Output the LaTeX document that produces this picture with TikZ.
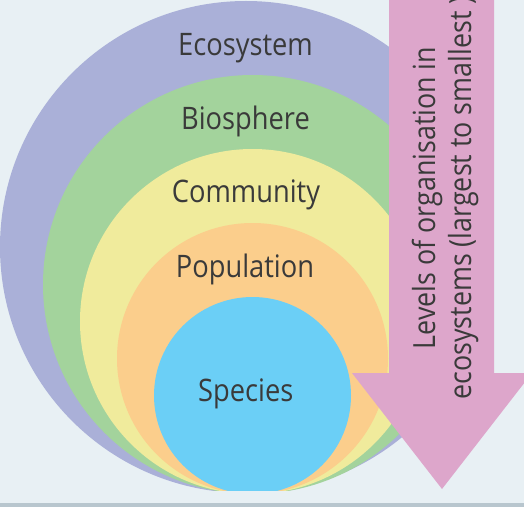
\documentclass[tikz,border=0pt]{standalone}
\usepackage{fontspec}
\setmainfont{Open Sans}[FakeStretch=0.88]
\definecolor{bgcol}{RGB}{232,240,244}
\definecolor{linecol}{RGB}{184,198,206}
\definecolor{ecocol}{RGB}{170,176,216}
\definecolor{biocol}{RGB}{163,211,156}
\definecolor{comcol}{RGB}{240,235,156}
\definecolor{popcol}{RGB}{251,206,140}
\definecolor{specol}{RGB}{107,207,246}
\definecolor{arrcol}{RGB}{221,166,203}
\definecolor{txtcol}{RGB}{58,58,58}
\tikzset{
  ring/.style={circle, inner sep=0pt, draw=none},
  lbl/.style={anchor=base, text=txtcol, inner sep=0pt, font=\fontsize{31}{36}\selectfont},
  arrlbl/.style={text=txtcol, inner sep=0pt, align=center, rotate=90, font=\fontsize{30.5}{36}\selectfont}
}
\begin{document}
\begin{tikzpicture}[x=1pt,y=-1pt]
\useasboundingbox (0,0) rectangle (524,516);
\clip (0,0) rectangle (524,516);
\fill[bgcol] (0,0) rectangle (524,503);
\fill[linecol] (0,503) rectangle (524,507);
\begin{scope}
  \clip (0,0) rectangle (524,490);
  \node[ring, fill=ecocol, minimum size=492pt] (eco) at (246,247) {};
  \node[ring, fill=biocol, minimum size=419pt] (bio) at (252.5,284.5) {};
  \node[ring, fill=comcol, minimum size=345pt] (com) at (252.5,321.5) {};
  \node[ring, fill=popcol, minimum size=271pt] (pop) at (252.5,358.5) {};
  \node[ring, fill=specol, minimum size=197pt] (spe) at (252.5,395.5) {};
\end{scope}
\node[lbl] (teco) at (245.5,56) {Ecosystem};
\node[lbl] (tbio) at (245.5,129.5) {Biosphere};
\node[lbl] (tcom) at (246,202.7) {Community};
\node[lbl] (tpop) at (245,277.3) {Population};
\node[lbl] (tspe) at (245.8,401) {Species};
\fill[arrcol] (389,-2) -- (494,-2) -- (494,373) -- (532,373) -- (442,489) -- (352,373) -- (389,373) -- cycle;
\node[arrlbl] (tarr) at (445,198) {Levels of organisation in\\ecosystems (largest to smallest )};
\end{tikzpicture}
\end{document}
